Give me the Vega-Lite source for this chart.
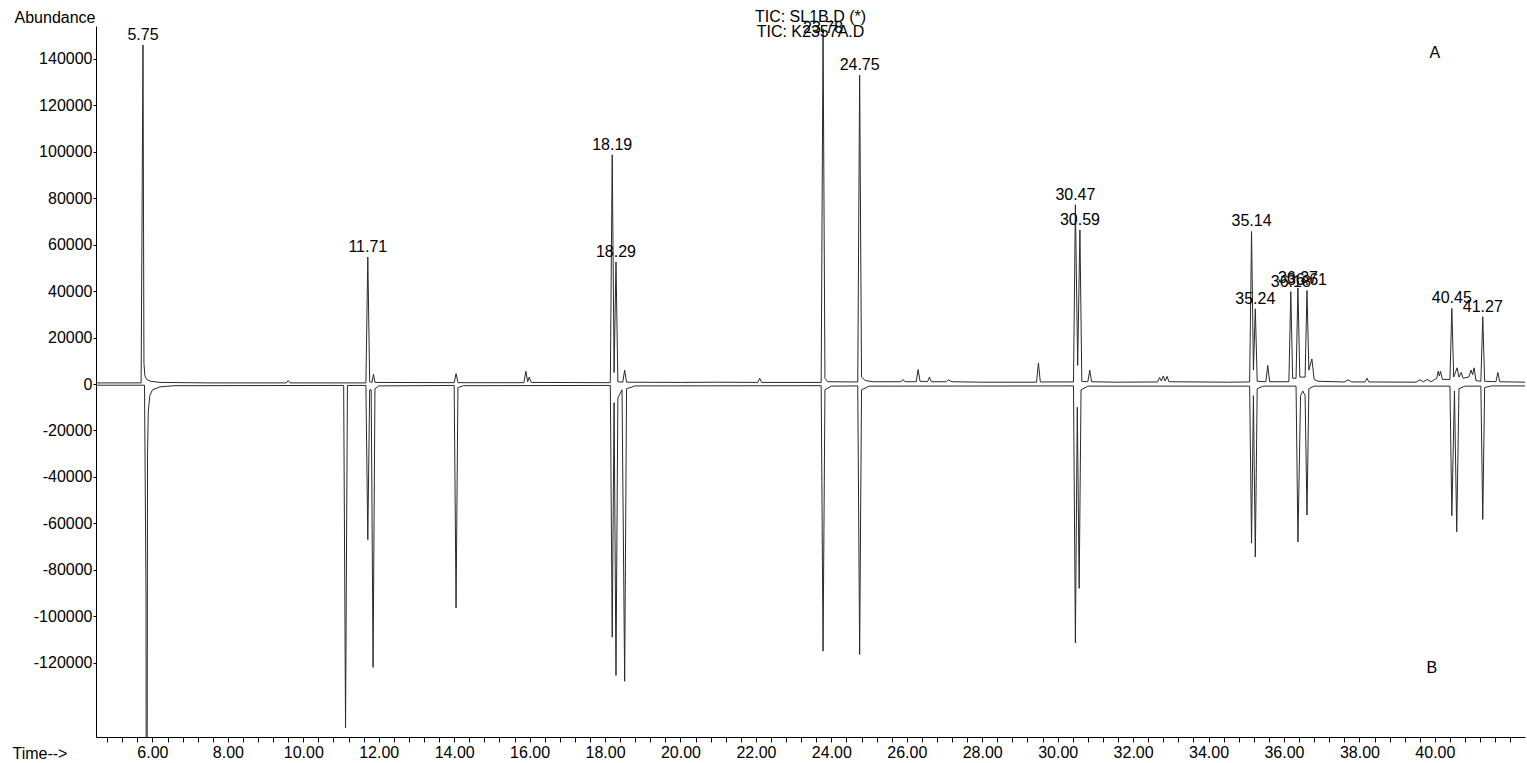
{
  "$schema": "https://vega.github.io/schema/vega-lite/v6.json",
  "width": 1429,
  "height": 711,
  "autosize": {"type": "none"},
  "padding": {"left": 96, "top": 26, "right": 2, "bottom": 26},
  "background": "white",
  "config": {
    "view": {"stroke": null},
    "font": "Liberation Sans",
    "axis": {
      "labelFont": "Liberation Sans",
      "titleFont": "Liberation Sans",
      "labelFontSize": 16,
      "titleFontSize": 16,
      "titleFontWeight": "normal",
      "labelColor": "black",
      "titleColor": "black",
      "domainColor": "black",
      "tickColor": "black",
      "grid": false
    }
  },
  "title": {
    "text": ["TIC: SL1B.D (*)", "TIC: K2357A.D"],
    "font": "Liberation Sans",
    "fontSize": 16,
    "fontWeight": "normal",
    "color": "black",
    "anchor": "middle",
    "lineHeight": 15,
    "offset": -31
  },
  "datasets": {
    "traces": [
      {"trace": "A", "t": 4.5, "v": 500},
      {"trace": "A", "t": 5.70, "v": 500},
      {"trace": "A", "t": 5.75, "v": 146000},
      {"trace": "A", "t": 5.775, "v": 9000},
      {"trace": "A", "t": 5.80, "v": 3500},
      {"trace": "A", "t": 5.85, "v": 2000},
      {"trace": "A", "t": 5.95, "v": 1200},
      {"trace": "A", "t": 6.2, "v": 700},
      {"trace": "A", "t": 7.5, "v": 500},
      {"trace": "A", "t": 9.55, "v": 500},
      {"trace": "A", "t": 9.6, "v": 1500},
      {"trace": "A", "t": 9.65, "v": 500},
      {"trace": "A", "t": 11.66, "v": 500},
      {"trace": "A", "t": 11.71, "v": 54700},
      {"trace": "A", "t": 11.76, "v": 1000},
      {"trace": "A", "t": 11.82, "v": 700},
      {"trace": "A", "t": 11.86, "v": 4200},
      {"trace": "A", "t": 11.9, "v": 700},
      {"trace": "A", "t": 14.0, "v": 600},
      {"trace": "A", "t": 14.05, "v": 4500},
      {"trace": "A", "t": 14.1, "v": 600},
      {"trace": "A", "t": 15.85, "v": 600},
      {"trace": "A", "t": 15.9, "v": 5500},
      {"trace": "A", "t": 15.95, "v": 1000},
      {"trace": "A", "t": 15.99, "v": 3000},
      {"trace": "A", "t": 16.04, "v": 700},
      {"trace": "A", "t": 18.14, "v": 600},
      {"trace": "A", "t": 18.19, "v": 98700},
      {"trace": "A", "t": 18.24, "v": 5000},
      {"trace": "A", "t": 18.29, "v": 52600},
      {"trace": "A", "t": 18.34, "v": 1000},
      {"trace": "A", "t": 18.47, "v": 800},
      {"trace": "A", "t": 18.52, "v": 6000},
      {"trace": "A", "t": 18.57, "v": 800},
      {"trace": "A", "t": 20.0, "v": 700},
      {"trace": "A", "t": 21.0, "v": 800},
      {"trace": "A", "t": 22.05, "v": 700},
      {"trace": "A", "t": 22.1, "v": 2500},
      {"trace": "A", "t": 22.15, "v": 700},
      {"trace": "A", "t": 23.73, "v": 700},
      {"trace": "A", "t": 23.78, "v": 153000},
      {"trace": "A", "t": 23.83, "v": 2500},
      {"trace": "A", "t": 23.9, "v": 1000},
      {"trace": "A", "t": 24.70, "v": 900},
      {"trace": "A", "t": 24.75, "v": 133000},
      {"trace": "A", "t": 24.80, "v": 3000},
      {"trace": "A", "t": 24.9, "v": 1500},
      {"trace": "A", "t": 25.1, "v": 1000},
      {"trace": "A", "t": 25.85, "v": 1000},
      {"trace": "A", "t": 25.9, "v": 2000},
      {"trace": "A", "t": 25.95, "v": 1000},
      {"trace": "A", "t": 26.25, "v": 1000},
      {"trace": "A", "t": 26.3, "v": 6300},
      {"trace": "A", "t": 26.35, "v": 1200},
      {"trace": "A", "t": 26.55, "v": 1000},
      {"trace": "A", "t": 26.6, "v": 3000},
      {"trace": "A", "t": 26.65, "v": 1000},
      {"trace": "A", "t": 27.05, "v": 1000},
      {"trace": "A", "t": 27.1, "v": 1800},
      {"trace": "A", "t": 27.2, "v": 1000},
      {"trace": "A", "t": 28.0, "v": 800},
      {"trace": "A", "t": 29.44, "v": 800},
      {"trace": "A", "t": 29.49, "v": 9000},
      {"trace": "A", "t": 29.54, "v": 900},
      {"trace": "A", "t": 30.42, "v": 900},
      {"trace": "A", "t": 30.47, "v": 77200},
      {"trace": "A", "t": 30.53, "v": 8000},
      {"trace": "A", "t": 30.59, "v": 66400},
      {"trace": "A", "t": 30.64, "v": 1200},
      {"trace": "A", "t": 30.80, "v": 1000},
      {"trace": "A", "t": 30.85, "v": 6000},
      {"trace": "A", "t": 30.9, "v": 1000},
      {"trace": "A", "t": 31.5, "v": 800},
      {"trace": "A", "t": 32.65, "v": 900},
      {"trace": "A", "t": 32.7, "v": 2800},
      {"trace": "A", "t": 32.75, "v": 1300},
      {"trace": "A", "t": 32.8, "v": 3500},
      {"trace": "A", "t": 32.85, "v": 1300},
      {"trace": "A", "t": 32.9, "v": 3300},
      {"trace": "A", "t": 32.95, "v": 1000},
      {"trace": "A", "t": 34.5, "v": 800},
      {"trace": "A", "t": 35.09, "v": 900},
      {"trace": "A", "t": 35.14, "v": 65700},
      {"trace": "A", "t": 35.19, "v": 6000},
      {"trace": "A", "t": 35.24, "v": 32400},
      {"trace": "A", "t": 35.29, "v": 1200},
      {"trace": "A", "t": 35.52, "v": 1000},
      {"trace": "A", "t": 35.57, "v": 8000},
      {"trace": "A", "t": 35.62, "v": 1000},
      {"trace": "A", "t": 36.13, "v": 1000},
      {"trace": "A", "t": 36.18, "v": 39800},
      {"trace": "A", "t": 36.23, "v": 2500},
      {"trace": "A", "t": 36.32, "v": 2500},
      {"trace": "A", "t": 36.37, "v": 41400},
      {"trace": "A", "t": 36.42, "v": 3000},
      {"trace": "A", "t": 36.56, "v": 3000},
      {"trace": "A", "t": 36.61, "v": 40300},
      {"trace": "A", "t": 36.66, "v": 6000},
      {"trace": "A", "t": 36.74, "v": 10800},
      {"trace": "A", "t": 36.8, "v": 2000},
      {"trace": "A", "t": 36.9, "v": 1200},
      {"trace": "A", "t": 37.6, "v": 900},
      {"trace": "A", "t": 37.7, "v": 1800},
      {"trace": "A", "t": 37.8, "v": 900},
      {"trace": "A", "t": 38.15, "v": 900},
      {"trace": "A", "t": 38.2, "v": 2500},
      {"trace": "A", "t": 38.25, "v": 900},
      {"trace": "A", "t": 39.5, "v": 800},
      {"trace": "A", "t": 39.6, "v": 1800},
      {"trace": "A", "t": 39.7, "v": 1000},
      {"trace": "A", "t": 39.8, "v": 2000},
      {"trace": "A", "t": 39.9, "v": 1000},
      {"trace": "A", "t": 40.05, "v": 2500},
      {"trace": "A", "t": 40.09, "v": 5600},
      {"trace": "A", "t": 40.12, "v": 3500},
      {"trace": "A", "t": 40.15, "v": 5500},
      {"trace": "A", "t": 40.2, "v": 2000},
      {"trace": "A", "t": 40.40, "v": 2000},
      {"trace": "A", "t": 40.45, "v": 32600},
      {"trace": "A", "t": 40.50, "v": 3000},
      {"trace": "A", "t": 40.59, "v": 7000},
      {"trace": "A", "t": 40.64, "v": 3000},
      {"trace": "A", "t": 40.70, "v": 5000},
      {"trace": "A", "t": 40.75, "v": 2500},
      {"trace": "A", "t": 40.90, "v": 3000},
      {"trace": "A", "t": 40.96, "v": 6000},
      {"trace": "A", "t": 41.00, "v": 4000},
      {"trace": "A", "t": 41.04, "v": 7000},
      {"trace": "A", "t": 41.09, "v": 1500},
      {"trace": "A", "t": 41.22, "v": 1200},
      {"trace": "A", "t": 41.27, "v": 29000},
      {"trace": "A", "t": 41.32, "v": 1200},
      {"trace": "A", "t": 41.62, "v": 1000},
      {"trace": "A", "t": 41.67, "v": 5000},
      {"trace": "A", "t": 41.72, "v": 1000},
      {"trace": "A", "t": 42.4, "v": 800},
      {"trace": "B", "t": 4.5, "v": -500},
      {"trace": "B", "t": 5.79, "v": -500},
      {"trace": "B", "t": 5.83, "v": -90000},
      {"trace": "B", "t": 5.835, "v": -175000},
      {"trace": "B", "t": 5.86, "v": -175000},
      {"trace": "B", "t": 5.87, "v": -30000},
      {"trace": "B", "t": 5.89, "v": -12000},
      {"trace": "B", "t": 5.93, "v": -5000},
      {"trace": "B", "t": 6.0, "v": -2500},
      {"trace": "B", "t": 6.2, "v": -1200},
      {"trace": "B", "t": 6.6, "v": -700},
      {"trace": "B", "t": 11.07, "v": -600},
      {"trace": "B", "t": 11.12, "v": -148000},
      {"trace": "B", "t": 11.17, "v": -600},
      {"trace": "B", "t": 11.66, "v": -600},
      {"trace": "B", "t": 11.71, "v": -67000},
      {"trace": "B", "t": 11.76, "v": -2500},
      {"trace": "B", "t": 11.80, "v": -2500},
      {"trace": "B", "t": 11.85, "v": -122000},
      {"trace": "B", "t": 11.9, "v": -2000},
      {"trace": "B", "t": 12.0, "v": -800},
      {"trace": "B", "t": 14.0, "v": -600},
      {"trace": "B", "t": 14.05, "v": -96400},
      {"trace": "B", "t": 14.1, "v": -1500},
      {"trace": "B", "t": 14.25, "v": -700},
      {"trace": "B", "t": 18.14, "v": -600},
      {"trace": "B", "t": 18.19, "v": -109000},
      {"trace": "B", "t": 18.24, "v": -8000},
      {"trace": "B", "t": 18.29, "v": -125500},
      {"trace": "B", "t": 18.34, "v": -6000},
      {"trace": "B", "t": 18.45, "v": -2500},
      {"trace": "B", "t": 18.52, "v": -128000},
      {"trace": "B", "t": 18.57, "v": -2000},
      {"trace": "B", "t": 18.8, "v": -800},
      {"trace": "B", "t": 23.73, "v": -700},
      {"trace": "B", "t": 23.78, "v": -115000},
      {"trace": "B", "t": 23.83, "v": -2500},
      {"trace": "B", "t": 24.0, "v": -900},
      {"trace": "B", "t": 24.70, "v": -800},
      {"trace": "B", "t": 24.75, "v": -116500},
      {"trace": "B", "t": 24.80, "v": -2500},
      {"trace": "B", "t": 25.0, "v": -900},
      {"trace": "B", "t": 30.42, "v": -800},
      {"trace": "B", "t": 30.47, "v": -111500},
      {"trace": "B", "t": 30.52, "v": -10000},
      {"trace": "B", "t": 30.57, "v": -88000},
      {"trace": "B", "t": 30.62, "v": -2500},
      {"trace": "B", "t": 30.8, "v": -900},
      {"trace": "B", "t": 35.09, "v": -900},
      {"trace": "B", "t": 35.14, "v": -68500},
      {"trace": "B", "t": 35.19, "v": -5000},
      {"trace": "B", "t": 35.24, "v": -74500},
      {"trace": "B", "t": 35.29, "v": -2000},
      {"trace": "B", "t": 35.45, "v": -900},
      {"trace": "B", "t": 36.32, "v": -900},
      {"trace": "B", "t": 36.37, "v": -68000},
      {"trace": "B", "t": 36.44, "v": -5000},
      {"trace": "B", "t": 36.50, "v": -3000},
      {"trace": "B", "t": 36.56, "v": -5000},
      {"trace": "B", "t": 36.61, "v": -56400},
      {"trace": "B", "t": 36.66, "v": -2000},
      {"trace": "B", "t": 36.8, "v": -900},
      {"trace": "B", "t": 40.40, "v": -900},
      {"trace": "B", "t": 40.45, "v": -56700},
      {"trace": "B", "t": 40.52, "v": -3000},
      {"trace": "B", "t": 40.58, "v": -63600},
      {"trace": "B", "t": 40.64, "v": -2000},
      {"trace": "B", "t": 40.8, "v": -900},
      {"trace": "B", "t": 41.22, "v": -900},
      {"trace": "B", "t": 41.27, "v": -58300},
      {"trace": "B", "t": 41.32, "v": -1500},
      {"trace": "B", "t": 41.5, "v": -800},
      {"trace": "B", "t": 42.4, "v": -800}
    ],
    "labels": [
      {"t": 5.75, "v": 146000, "label": "5.75"},
      {"t": 11.71, "v": 54700, "label": "11.71"},
      {"t": 18.19, "v": 98700, "label": "18.19"},
      {"t": 18.29, "v": 52600, "label": "18.29"},
      {"t": 23.78, "v": 149000, "label": "23.78"},
      {"t": 24.75, "v": 133000, "label": "24.75"},
      {"t": 30.47, "v": 77200, "label": "30.47"},
      {"t": 30.59, "v": 66400, "label": "30.59"},
      {"t": 35.14, "v": 65700, "label": "35.14"},
      {"t": 35.24, "v": 32400, "label": "35.24"},
      {"t": 36.18, "v": 39800, "label": "36.18"},
      {"t": 36.37, "v": 41400, "label": "36.37"},
      {"t": 36.61, "v": 40300, "label": "36.61"},
      {"t": 40.45, "v": 32600, "label": "40.45"},
      {"t": 41.27, "v": 29000, "label": "41.27"}
    ],
    "markers": [
      {"t": 40.0, "v": 142550, "label": "A"},
      {"t": 39.92, "v": -122300, "label": "B"}
    ]
  },
  "layer": [
    {
      "data": {"name": "traces"},
      "mark": {"type": "line", "clip": true, "strokeWidth": 1, "color": "#2a2a2a", "interpolate": "linear"},
      "encoding": {
        "x": {
          "field": "t",
          "type": "quantitative",
          "scale": {"domain": [4.504, 42.39], "nice": false, "zero": false},
          "axis": {
            "title": "Time-->",
            "titleX": -84,
            "titleY": 21,
            "titleAlign": "left",
            "titleBaseline": "alphabetic",
            "titleAngle": 0,
            "values": [4.8,5.2,5.6,6,6.4,6.8,7.2,7.6,8,8.4,8.8,9.2,9.6,10,10.4,10.8,11.2,11.6,12,12.4,12.8,13.2,13.6,14,14.4,14.8,15.2,15.6,16,16.4,16.8,17.2,17.6,18,18.4,18.8,19.2,19.6,20,20.4,20.8,21.2,21.6,22,22.4,22.8,23.2,23.6,24,24.4,24.8,25.2,25.6,26,26.4,26.8,27.2,27.6,28,28.4,28.8,29.2,29.6,30,30.4,30.8,31.2,31.6,32,32.4,32.8,33.2,33.6,34,34.4,34.8,35.2,35.6,36,36.4,36.8,37.2,37.6,38,38.4,38.8,39.2,39.6,40,40.4,40.8,41.2,41.6,42],
            "tickCount": 500,
            "labelExpr": "(datum.value % 2 == 0 && datum.value <= 40) ? format(datum.value, '.2f') : ''",
            "labelOverlap": false,
            "labelBound": false,
            "labelFlush": false,
            "tickSize": 5,
            "labelPadding": 2
          }
        },
        "y": {
          "field": "v",
          "type": "quantitative",
          "scale": {"domain": [-152000, 154200], "nice": false, "zero": false},
          "axis": {
            "title": "Abundance",
            "titleAngle": 0,
            "titleX": -1,
            "titleY": -4,
            "titleAlign": "right",
            "titleBaseline": "alphabetic",
            "values": [-120000,-100000,-80000,-60000,-40000,-20000,0,20000,40000,60000,80000,100000,120000,140000],
            "tickCount": 100,
            "labelExpr": "datum.value < 0 ? '-' + format(-datum.value, 'd') : format(datum.value, 'd')",
            "tickSize": 3,
            "labelPadding": 1,
            "labelOverlap": false
          }
        },
        "detail": {"field": "trace", "type": "nominal"}
      }
    },
    {
      "data": {"name": "labels"},
      "mark": {"type": "text", "fontSize": 16, "font": "Liberation Sans", "baseline": "alphabetic", "align": "center", "dy": -5, "color": "black"},
      "encoding": {
        "x": {"field": "t", "type": "quantitative"},
        "y": {"field": "v", "type": "quantitative"},
        "text": {"field": "label"}
      }
    },
    {
      "data": {"name": "markers"},
      "mark": {"type": "text", "fontSize": 16, "font": "Liberation Sans", "baseline": "middle", "align": "center", "color": "black"},
      "encoding": {
        "x": {"field": "t", "type": "quantitative"},
        "y": {"field": "v", "type": "quantitative"},
        "text": {"field": "label"}
      }
    }
  ]
}
